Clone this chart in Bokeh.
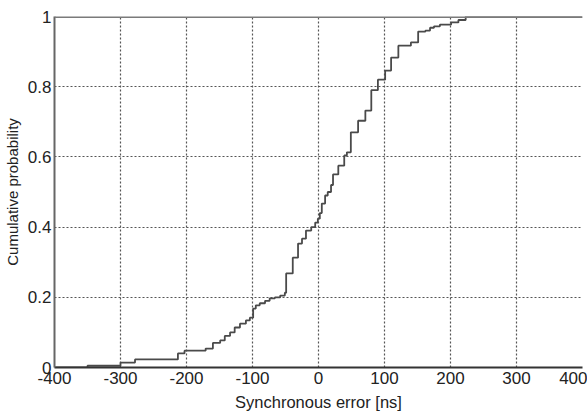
from bokeh.plotting import figure
from bokeh.models import Range1d, FixedTicker, Span
from bokeh.embed import file_html
from bokeh.resources import INLINE

err_ns = [-400, -350, -300, -278, -213, -203, -171, -160, -149, -142, -134, -127, -119, -110,
          -104, -99, -95, -89, -81, -74, -66, -58, -51, -49, -39, -31, -25, -19, -11, -5,
          -1, 2, 5, 10, 14, 19, 22, 30, 39, 43, 49, 60, 71, 80, 90, 101, 110, 121, 140,
          151, 162, 169, 175, 184, 201, 212, 223, 400]
cum_prob = [0.0, 0.005, 0.014, 0.023, 0.04, 0.048, 0.054, 0.07, 0.077, 0.09, 0.10, 0.114, 0.125, 0.134,
            0.142, 0.168, 0.177, 0.183, 0.19, 0.197, 0.2, 0.205, 0.213, 0.268, 0.313, 0.353, 0.367, 0.39, 0.40, 0.413,
            0.424, 0.44, 0.467, 0.49, 0.50, 0.52, 0.55, 0.575, 0.604, 0.613, 0.67, 0.703, 0.732, 0.79, 0.82, 0.846, 0.883, 0.917, 0.926,
            0.957, 0.96, 0.968, 0.972, 0.977, 0.983, 0.99, 1.0, 1.0]

x_ticks = [-400, -300, -200, -100, 0, 100, 200, 300, 400]
x_tick_labels = ["-400", "-300", "-200", "-100", "0", "100", "200", "300", "400"]
y_ticks = [0, 0.2, 0.4, 0.6, 0.8, 1]
y_tick_labels = ["0", "0.2", "0.4", "0.6", "0.8", "1"]

FONT = "Liberation Sans"
TXT = "#222222"

p = figure(width=587, height=416, output_backend="svg", toolbar_location=None,
           x_range=Range1d(-400, 400), y_range=Range1d(0, 1),
           min_border_left=53, min_border_right=5, min_border_top=16, min_border_bottom=49)
p.outline_line_color = None
p.background_fill_color = "white"
p.border_fill_color = "white"

p.step(err_ns, cum_prob, mode="after", line_color="#4a4a4a", line_width=1.8)

p.add_layout(Span(location=1, dimension="width", line_color="#7a7a7a", line_width=3))

for ax in (p.xaxis, p.yaxis):
    ax.major_tick_line_color = None
    ax.minor_tick_line_color = None
    ax.major_tick_out = 0
    ax.major_tick_in = 0
    ax.axis_line_width = 2
    ax.major_label_text_font = FONT
    ax.major_label_text_font_size = "17px"
    ax.major_label_text_color = TXT
    ax.axis_label_text_font = FONT
    ax.axis_label_text_font_style = "normal"
    ax.axis_label_text_color = TXT

p.xaxis.axis_line_color = "#333333"
p.yaxis.axis_line_color = "#666666"
p.xaxis.axis_label_text_font_size = "16.5px"
p.yaxis.axis_label_text_font_size = "15px"

p.xaxis.ticker = FixedTicker(ticks=x_ticks)
p.yaxis.ticker = FixedTicker(ticks=y_ticks)
p.xaxis.major_label_overrides = {t: s for t, s in zip(x_ticks, x_tick_labels)}
p.yaxis.major_label_overrides = {t: s for t, s in zip(y_ticks, y_tick_labels)}
p.xaxis.major_label_standoff = 4
p.yaxis.major_label_standoff = 3
p.xaxis.axis_label = "Synchronous error [ns]"
p.yaxis.axis_label = "Cumulative probability"
p.xaxis.axis_label_standoff = 6
p.yaxis.axis_label_standoff = 4

for g in (p.xgrid, p.ygrid):
    g.grid_line_color = "#555555"
    g.grid_line_dash = "2 2"
    g.grid_line_width = 1.2

open("out.html", "w").write(file_html(p, INLINE))
